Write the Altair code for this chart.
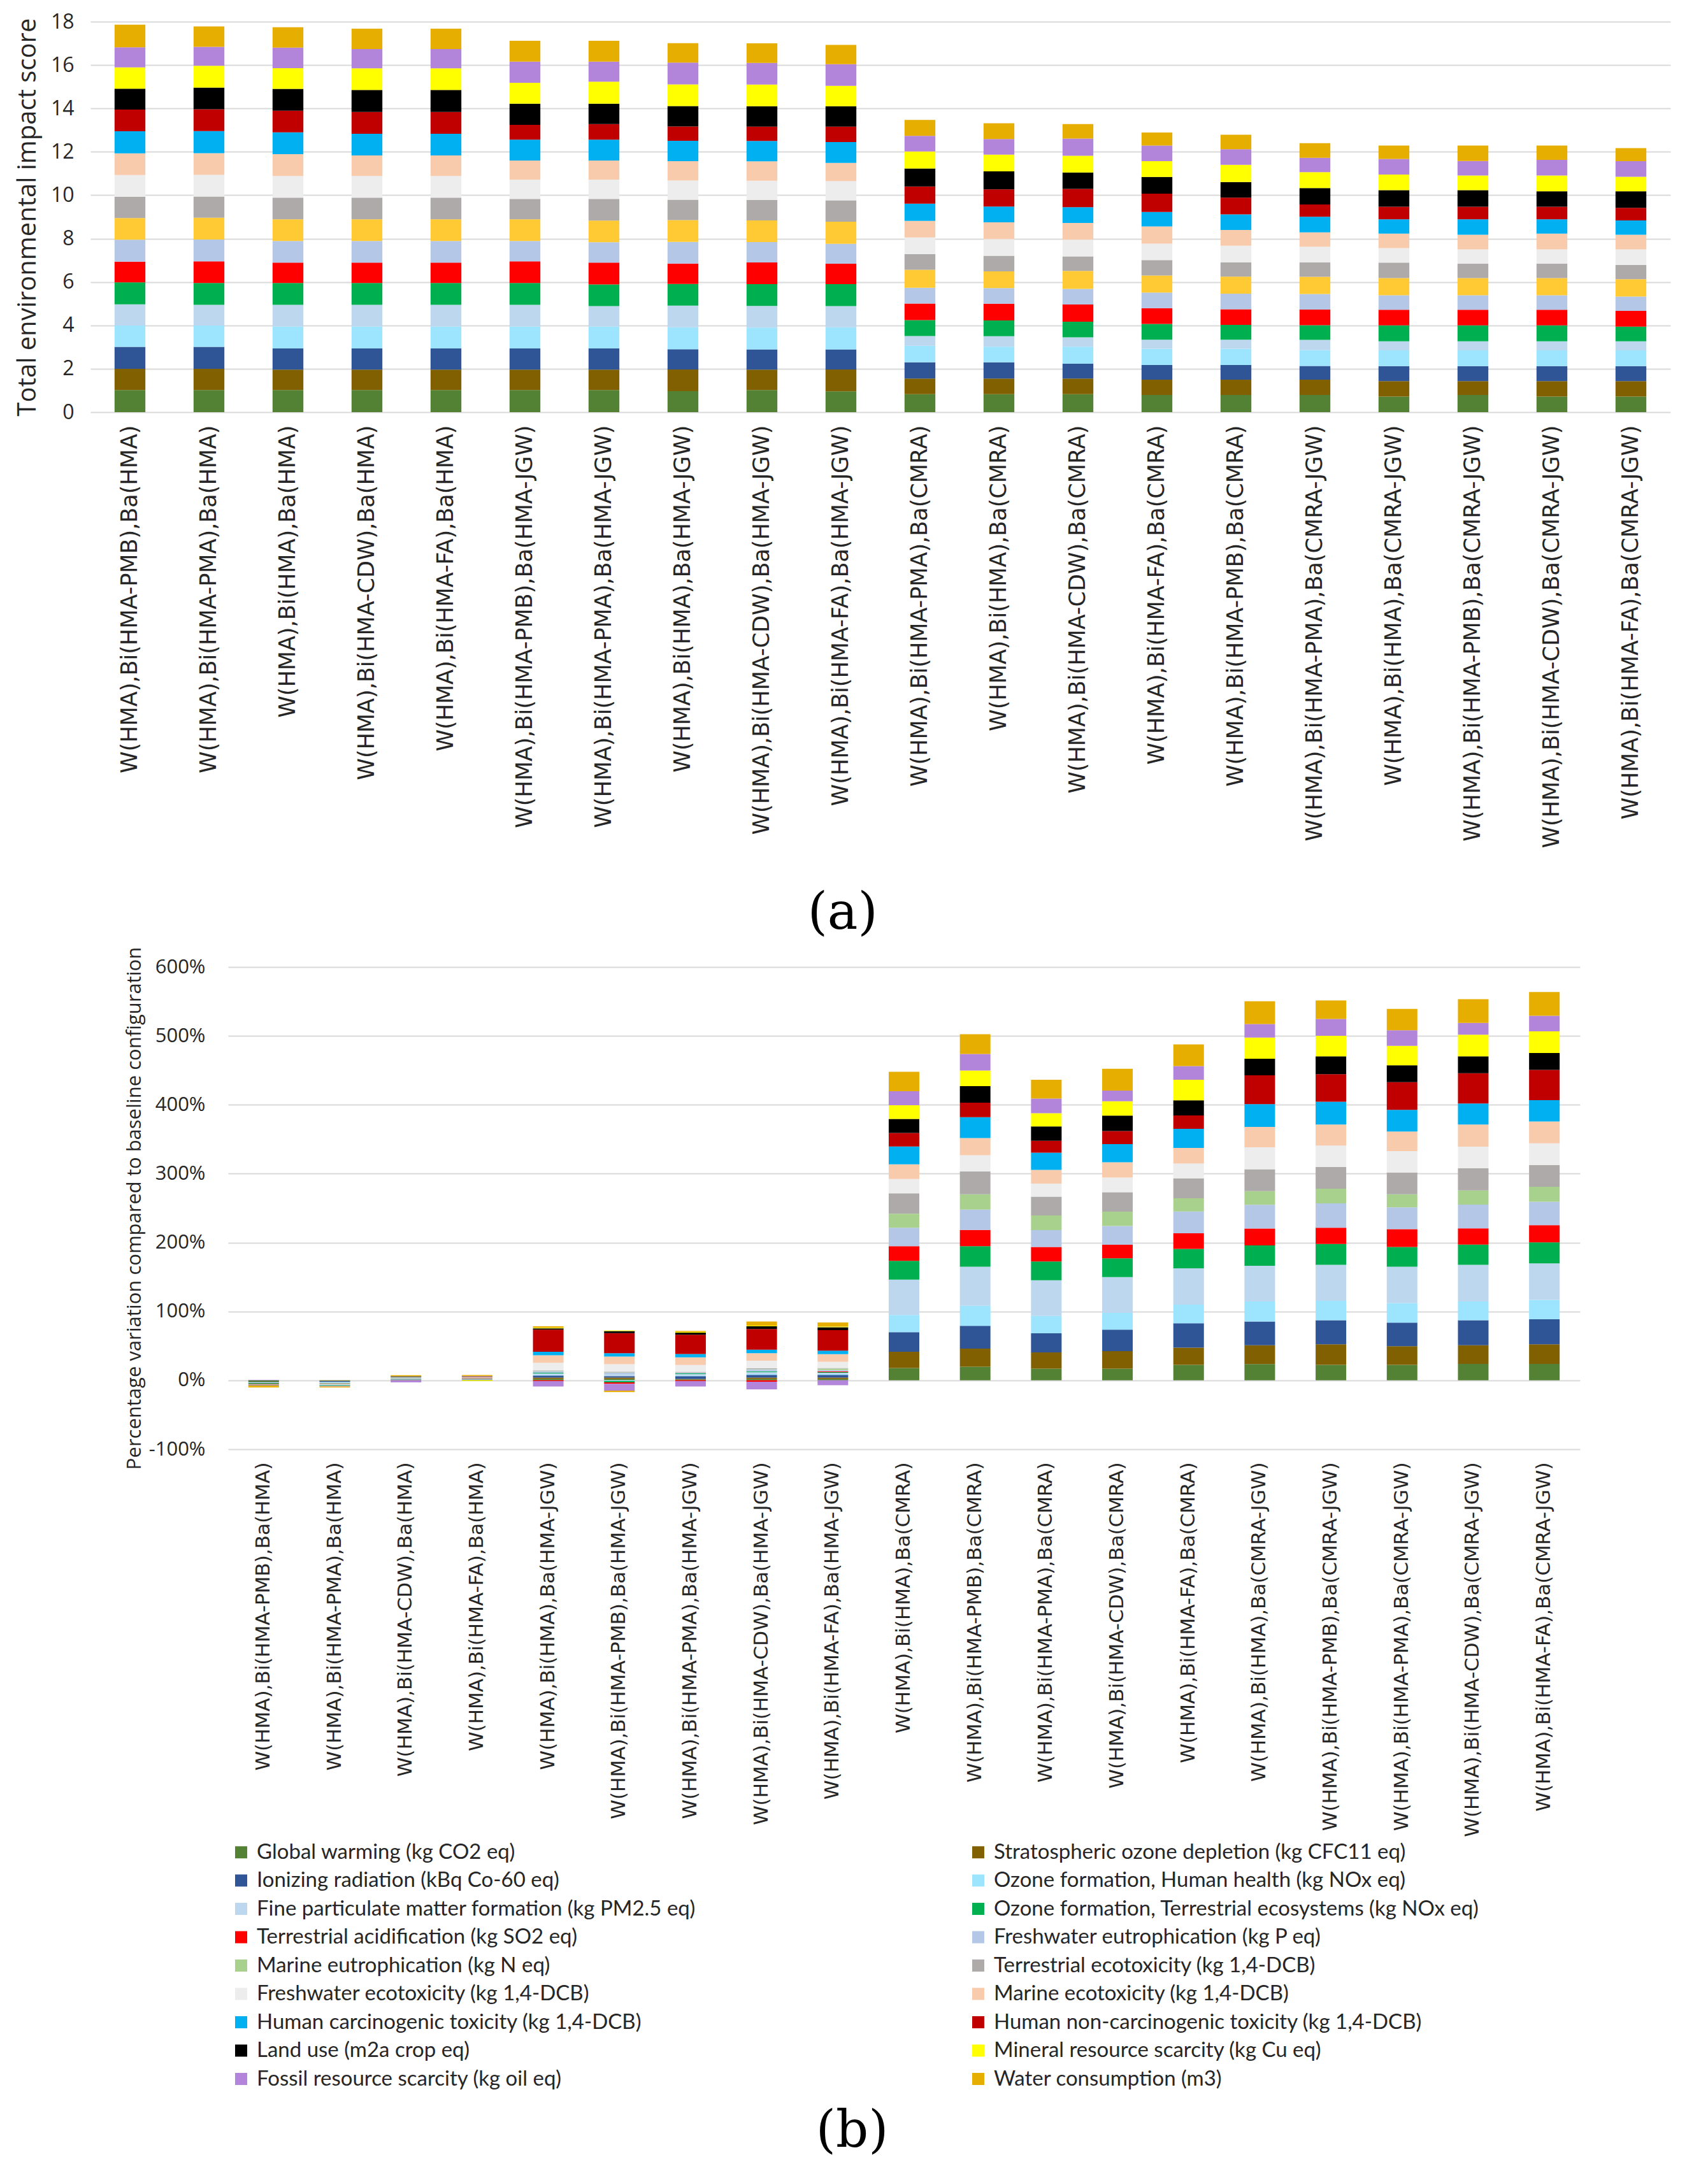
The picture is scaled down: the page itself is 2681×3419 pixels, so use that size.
import altair as alt
import pandas as pd

categories = [
    "Global warming (kg CO2 eq)",
    "Stratospheric ozone depletion (kg CFC11 eq)",
    "Ionizing radiation (kBq Co-60 eq)",
    "Ozone formation, Human health (kg NOx eq)",
    "Fine particulate matter formation (kg PM2.5 eq)",
    "Ozone formation, Terrestrial ecosystems (kg NOx eq)",
    "Terrestrial acidification (kg SO2 eq)",
    "Freshwater eutrophication (kg P eq)",
    "Marine eutrophication (kg N eq)",
    "Terrestrial ecotoxicity (kg 1,4-DCB)",
    "Freshwater ecotoxicity (kg 1,4-DCB)",
    "Marine ecotoxicity (kg 1,4-DCB)",
    "Human carcinogenic toxicity (kg 1,4-DCB)",
    "Human non-carcinogenic toxicity (kg 1,4-DCB)",
    "Land use (m2a crop eq)",
    "Mineral resource scarcity (kg Cu eq)",
    "Fossil resource scarcity (kg oil eq)",
    "Water consumption (m3)",
]

colors_b = ["#548235", "#806000", "#2F5597", "#9DE4FF", "#BDD7EE", "#00B050",
            "#FF0000", "#B4C7E7", "#A9D18E", "#AEAAAA", "#EDEDED", "#F8CBAD",
            "#00B0F0", "#C00000", "#000000", "#FFFF00", "#B385DA", "#E6AE00"]
colors_a = ["#548235", "#806000", "#2F5597", "#9DE4FF", "#BDD7EE", "#00B050",
            "#FF0000", "#B4C7E7", "#FFCA33", "#AEAAAA", "#EDEDED", "#F8CBAD",
            "#00B0F0", "#C00000", "#000000", "#FFFF00", "#B385DA", "#E6AE00"]

configs_a = [
    "W(HMA),Bi(HMA-PMB),Ba(HMA)",
    "W(HMA),Bi(HMA-PMA),Ba(HMA)",
    "W(HMA),Bi(HMA),Ba(HMA)",
    "W(HMA),Bi(HMA-CDW),Ba(HMA)",
    "W(HMA),Bi(HMA-FA),Ba(HMA)",
    "W(HMA),Bi(HMA-PMB),Ba(HMA-JGW)",
    "W(HMA),Bi(HMA-PMA),Ba(HMA-JGW)",
    "W(HMA),Bi(HMA),Ba(HMA-JGW)",
    "W(HMA),Bi(HMA-CDW),Ba(HMA-JGW)",
    "W(HMA),Bi(HMA-FA),Ba(HMA-JGW)",
    "W(HMA),Bi(HMA-PMA),Ba(CMRA)",
    "W(HMA),Bi(HMA),Ba(CMRA)",
    "W(HMA),Bi(HMA-CDW),Ba(CMRA)",
    "W(HMA),Bi(HMA-FA),Ba(CMRA)",
    "W(HMA),Bi(HMA-PMB),Ba(CMRA)",
    "W(HMA),Bi(HMA-PMA),Ba(CMRA-JGW)",
    "W(HMA),Bi(HMA),Ba(CMRA-JGW)",
    "W(HMA),Bi(HMA-PMB),Ba(CMRA-JGW)",
    "W(HMA),Bi(HMA-CDW),Ba(CMRA-JGW)",
    "W(HMA),Bi(HMA-FA),Ba(CMRA-JGW)",
]

values_a = [
    [1.02, 0.98, 1.01, 0.98, 0.98, 1.01, 0.96, 1.01, 1.00, 0.98, 1.00, 1.00, 1.02, 1.00, 0.96, 0.98, 0.93, 1.04],
    [1.02, 0.98, 1.01, 0.98, 0.96, 1.00, 1.00, 1.01, 1.00, 0.98, 1.00, 1.00, 1.02, 1.00, 1.00, 1.01, 0.87, 0.94],
    [1.02, 0.94, 0.98, 1.01, 1.00, 1.00, 0.94, 1.00, 1.00, 1.00, 1.00, 1.00, 1.01, 1.00, 1.00, 0.96, 0.94, 0.94],
    [1.02, 0.94, 0.98, 1.01, 1.00, 1.00, 0.94, 1.00, 1.00, 1.00, 1.00, 0.94, 1.00, 1.01, 1.01, 1.00, 0.89, 0.94],
    [1.02, 0.94, 0.98, 1.01, 1.00, 1.00, 0.94, 1.00, 1.00, 1.00, 1.00, 0.94, 1.00, 1.01, 1.01, 1.00, 0.89, 0.94],
    [1.02, 0.94, 0.98, 1.01, 1.00, 1.00, 1.00, 0.94, 1.00, 0.94, 0.89, 0.88, 0.96, 0.68, 0.98, 0.96, 0.98, 0.96],
    [1.02, 0.94, 0.98, 1.01, 0.94, 1.00, 1.00, 0.94, 1.00, 1.00, 0.89, 0.88, 0.96, 0.72, 0.94, 1.01, 0.93, 0.96],
    [0.97, 1.00, 0.93, 1.01, 1.00, 1.00, 0.94, 1.00, 1.00, 0.94, 0.89, 0.89, 0.94, 0.66, 0.94, 1.00, 1.00, 0.90],
    [1.02, 0.94, 0.93, 1.01, 1.00, 1.00, 1.00, 0.94, 1.00, 0.94, 0.89, 0.89, 0.94, 0.66, 0.94, 1.00, 1.00, 0.90],
    [0.96, 1.01, 0.92, 1.02, 0.98, 1.01, 0.94, 0.92, 1.02, 0.98, 0.89, 0.84, 0.96, 0.71, 0.94, 0.94, 1.00, 0.89],
    [0.83, 0.72, 0.75, 0.76, 0.45, 0.73, 0.77, 0.72, 0.83, 0.72, 0.77, 0.77, 0.79, 0.79, 0.83, 0.79, 0.72, 0.73],
    [0.83, 0.72, 0.75, 0.72, 0.48, 0.73, 0.77, 0.72, 0.77, 0.72, 0.77, 0.77, 0.73, 0.79, 0.83, 0.77, 0.72, 0.73],
    [0.83, 0.72, 0.68, 0.79, 0.43, 0.72, 0.79, 0.72, 0.83, 0.67, 0.77, 0.77, 0.73, 0.84, 0.76, 0.77, 0.79, 0.67],
    [0.79, 0.71, 0.67, 0.75, 0.42, 0.73, 0.72, 0.72, 0.79, 0.71, 0.76, 0.79, 0.67, 0.84, 0.77, 0.73, 0.72, 0.60],
    [0.79, 0.71, 0.67, 0.75, 0.42, 0.68, 0.72, 0.72, 0.79, 0.66, 0.76, 0.73, 0.72, 0.77, 0.72, 0.79, 0.72, 0.67],
    [0.79, 0.71, 0.63, 0.73, 0.47, 0.68, 0.72, 0.72, 0.79, 0.66, 0.73, 0.66, 0.72, 0.56, 0.76, 0.73, 0.66, 0.68],
    [0.72, 0.71, 0.69, 0.73, 0.42, 0.73, 0.72, 0.67, 0.79, 0.71, 0.67, 0.67, 0.66, 0.58, 0.76, 0.72, 0.72, 0.62],
    [0.79, 0.64, 0.69, 0.73, 0.42, 0.73, 0.72, 0.67, 0.79, 0.66, 0.66, 0.68, 0.71, 0.58, 0.76, 0.68, 0.67, 0.71],
    [0.72, 0.71, 0.69, 0.73, 0.42, 0.73, 0.72, 0.67, 0.79, 0.66, 0.66, 0.73, 0.66, 0.58, 0.71, 0.73, 0.72, 0.66],
    [0.72, 0.71, 0.69, 0.73, 0.42, 0.67, 0.73, 0.66, 0.80, 0.66, 0.71, 0.68, 0.66, 0.58, 0.76, 0.67, 0.72, 0.60],
]

configs_b = [
    "W(HMA),Bi(HMA-PMB),Ba(HMA)",
    "W(HMA),Bi(HMA-PMA),Ba(HMA)",
    "W(HMA),Bi(HMA-CDW),Ba(HMA)",
    "W(HMA),Bi(HMA-FA),Ba(HMA)",
    "W(HMA),Bi(HMA),Ba(HMA-JGW)",
    "W(HMA),Bi(HMA-PMB),Ba(HMA-JGW)",
    "W(HMA),Bi(HMA-PMA),Ba(HMA-JGW)",
    "W(HMA),Bi(HMA-CDW),Ba(HMA-JGW)",
    "W(HMA),Bi(HMA-FA),Ba(HMA-JGW)",
    "W(HMA),Bi(HMA),Ba(CMRA)",
    "W(HMA),Bi(HMA-PMB),Ba(CMRA)",
    "W(HMA),Bi(HMA-PMA),Ba(CMRA)",
    "W(HMA),Bi(HMA-CDW),Ba(CMRA)",
    "W(HMA),Bi(HMA-FA),Ba(CMRA)",
    "W(HMA),Bi(HMA),Ba(CMRA-JGW)",
    "W(HMA),Bi(HMA-PMB),Ba(CMRA-JGW)",
    "W(HMA),Bi(HMA-PMA),Ba(CMRA-JGW)",
    "W(HMA),Bi(HMA-CDW),Ba(CMRA-JGW)",
    "W(HMA),Bi(HMA-FA),Ba(CMRA-JGW)",
]

values_b = [
    [-2.0, -0.5, -0.5, -0.3, -0.5, -1.5, -0.5, -0.3, -0.2, -0.2, -0.2, -0.2, -0.2, -0.2, -0.2, -0.2, 0.8, -2.5],
    [-0.5, -0.5, -1.5, -1.0, -0.5, -0.5, -0.5, -0.3, -0.3, -0.3, -0.3, -0.3, -1.0, -0.3, -0.3, -0.3, -0.8, -1.0],
    [0.5, 0.5, 0.5, 0.3, 0.5, 0.3, 0.3, 0.3, 0.2, 0.2, 0.3, 0.3, 0.5, 0.3, 0.8, 0.2, -3.0, 1.5],
    [0.5, 0.3, 0.5, 0.3, 0.4, 0.5, 0.5, 0.3, 0.3, 0.2, 0.3, 0.3, 0.3, 0.5, 0.5, -1.0, 0.5, 1.5],
    [2.0, 2.0, 3.0, 1.0, 2.0, 1.0, -1.0, 2.0, 0.5, 1.0, 11.0, 11.0, 5.0, 32.0, 2.0, 1.0, -8.0, 2.0],
    [2.0, 2.0, 2.0, -1.0, 3.0, -2.0, -2.0, 2.0, 0.5, 1.0, 11.0, 11.0, 5.0, 29.0, 3.0, 1.0, -10.0, -2.0],
    [1.0, 1.0, 4.0, 1.0, 2.0, 1.0, -1.0, 1.0, 0.3, 1.0, 10.0, 11.0, 5.0, 28.0, 3.0, 1.0, -8.0, 1.5],
    [2.0, 2.0, 4.0, 1.0, 3.0, 1.0, -2.0, 3.0, 0.5, 1.0, 11.0, 11.0, 5.0, 30.0, 4.0, 1.0, -11.0, 6.0],
    [2.0, 2.0, 4.0, 1.0, 2.0, 1.0, 1.0, 2.0, 2.0, 1.0, 9.0, 11.0, 5.0, 30.0, 4.0, 1.0, -7.0, 6.0],
    [17.9, 23.6, 28.3, 25.0, 51.4, 27.3, 21.2, 26.9, 20.3, 29.7, 20.7, 21.2, 25.9, 19.8, 20.3, 19.8, 20.3, 28.3],
    [19.8, 26.4, 33.0, 29.2, 56.6, 29.7, 23.6, 29.7, 22.1, 33.0, 23.6, 25.0, 30.2, 21.2, 24.0, 22.6, 24.0, 28.7],
    [17.0, 23.6, 27.8, 25.0, 51.8, 27.3, 21.2, 24.5, 21.2, 27.3, 18.9, 19.8, 25.0, 17.4, 20.7, 19.3, 21.2, 27.3],
    [17.0, 25.4, 31.1, 24.5, 51.8, 27.3, 19.8, 27.3, 20.7, 28.3, 21.2, 22.1, 26.4, 18.9, 22.6, 20.7, 15.6, 31.6],
    [22.6, 25.0, 35.3, 26.9, 52.8, 28.3, 22.6, 31.6, 19.3, 28.7, 21.7, 22.6, 27.8, 19.3, 22.1, 29.7, 19.8, 31.6],
    [23.6, 27.3, 34.4, 29.2, 51.8, 29.7, 24.5, 34.4, 19.8, 31.6, 32.0, 29.7, 33.0, 41.9, 24.0, 30.6, 19.8, 33.0],
    [22.6, 29.7, 34.9, 28.3, 52.3, 30.2, 23.6, 35.3, 21.2, 31.6, 31.1, 30.6, 33.0, 40.1, 25.9, 29.7, 24.5, 26.9],
    [22.6, 26.9, 34.4, 28.3, 52.8, 28.7, 25.9, 31.6, 18.9, 31.6, 31.1, 28.3, 31.6, 40.1, 24.5, 28.3, 22.6, 31.1],
    [24.0, 26.9, 36.3, 27.3, 53.3, 29.2, 23.6, 34.4, 20.7, 32.0, 31.6, 32.0, 30.6, 43.8, 24.5, 31.6, 17.0, 34.4],
    [24.0, 28.3, 36.3, 28.3, 52.8, 30.6, 25.0, 33.9, 21.7, 31.6, 31.6, 31.6, 31.1, 43.8, 24.5, 31.6, 22.6, 34.4],
]


def long_table(configs, values):
    rows = []
    for c, vals in zip(configs, values):
        for i, (cat, v) in enumerate(zip(categories, vals)):
            rows.append({"config": c, "category": cat, "idx": i, "value": v})
    return pd.DataFrame(rows)


df_a = long_table(configs_a, values_a)
df_b = long_table(configs_b, values_b)

TXT = "#262626"
GRID = "#D9D9D9"

panel_a = alt.Chart(df_a).mark_bar().encode(
    x=alt.X("config:N", sort=configs_a,
            scale=alt.Scale(paddingInner=0.61, paddingOuter=0.305),
            axis=alt.Axis(title=None, labelAngle=-90, labelFont="DejaVu Sans",
                          labelFontSize=35, labelLimit=1200, ticks=False,
                          domain=False, labelPadding=20, labelColor=TXT)),
    y=alt.Y("value:Q", stack="zero", scale=alt.Scale(domain=[0, 18], nice=False),
            axis=alt.Axis(values=list(range(0, 19, 2)), grid=True, gridColor=GRID,
                          gridWidth=2, domain=False, ticks=False,
                          labelFont="Open Sans", labelFontSize=32, labelColor=TXT,
                          labelPadding=26, title="Total environmental impact score",
                          titleFont="Open Sans", titleFontSize=40,
                          titleFontWeight="normal", titleColor=TXT, titlePadding=16)),
    color=alt.Color("category:N", scale=alt.Scale(domain=categories, range=colors_a),
                    legend=None),
    order=alt.Order("idx:Q", sort="ascending"),
).properties(
    width=2480, height=613,
    title=alt.TitleParams("(a)", orient="bottom", anchor="middle", frame="bounds",
                          font="DejaVu Serif", fontSize=80, fontWeight="normal",
                          color="#000000", offset=64),
)

panel_b = alt.Chart(df_b).mark_bar().encode(
    x=alt.X("config:N", sort=configs_b,
            scale=alt.Scale(paddingInner=0.57, paddingOuter=0.285),
            axis=alt.Axis(title=None, labelAngle=-90, labelFont="DejaVu Sans",
                          labelFontSize=31, labelLimit=1200, ticks=False,
                          domain=False, labelPadding=20, labelColor=TXT)),
    y=alt.Y("value:Q", stack="zero", scale=alt.Scale(domain=[-100, 600], nice=False),
            axis=alt.Axis(values=list(range(-100, 700, 100)), grid=True, gridColor=GRID,
                          gridWidth=2, domain=False, ticks=False,
                          labelExpr="datum.value + '%'",
                          labelFont="Open Sans", labelFontSize=31, labelColor=TXT,
                          labelPadding=36,
                          title="Percentage variation compared to baseline configuration",
                          titleFont="Open Sans", titleFontSize=31,
                          titleFontWeight="normal", titleColor=TXT, titlePadding=6)),
    color=alt.Color("category:N", scale=alt.Scale(domain=categories, range=colors_b),
                    legend=alt.Legend(orient="none", legendX=4, legendY=1373,
                                      direction="horizontal",
                                      columns=2, title=None, symbolType="square",
                                      symbolSize=361, symbolStrokeWidth=0,
                                      labelFont="Lato", labelFontSize=33,
                                      labelColor=TXT, labelLimit=1500,
                                      rowPadding=10.5, columnPadding=426,
                                      labelOffset=8)),
    order=alt.Order("idx:Q", sort="ascending"),
).properties(
    width=2122, height=757,
    title=alt.TitleParams("(b)", orient="bottom", anchor="middle", frame="bounds",
                          font="DejaVu Serif", fontSize=80, fontWeight="normal",
                          color="#000000", offset=26),
)

spacer = alt.Chart(pd.DataFrame({"v": [0]})).mark_point(opacity=0).encode(
    x=alt.X("v:Q", axis=None), y=alt.Y("v:Q", axis=None)
).properties(width=32, height=10)

chart = alt.vconcat(
    panel_a,
    alt.hconcat(spacer, panel_b, spacing=21).resolve_scale(color="independent"),
    spacing=11,
).resolve_scale(color="independent").configure_view(strokeWidth=0).properties(
    padding={"left": 15, "top": 10, "right": 5, "bottom": 5}
)

chart.save("out.html", embed_options={"renderer": "svg", "actions": False})
